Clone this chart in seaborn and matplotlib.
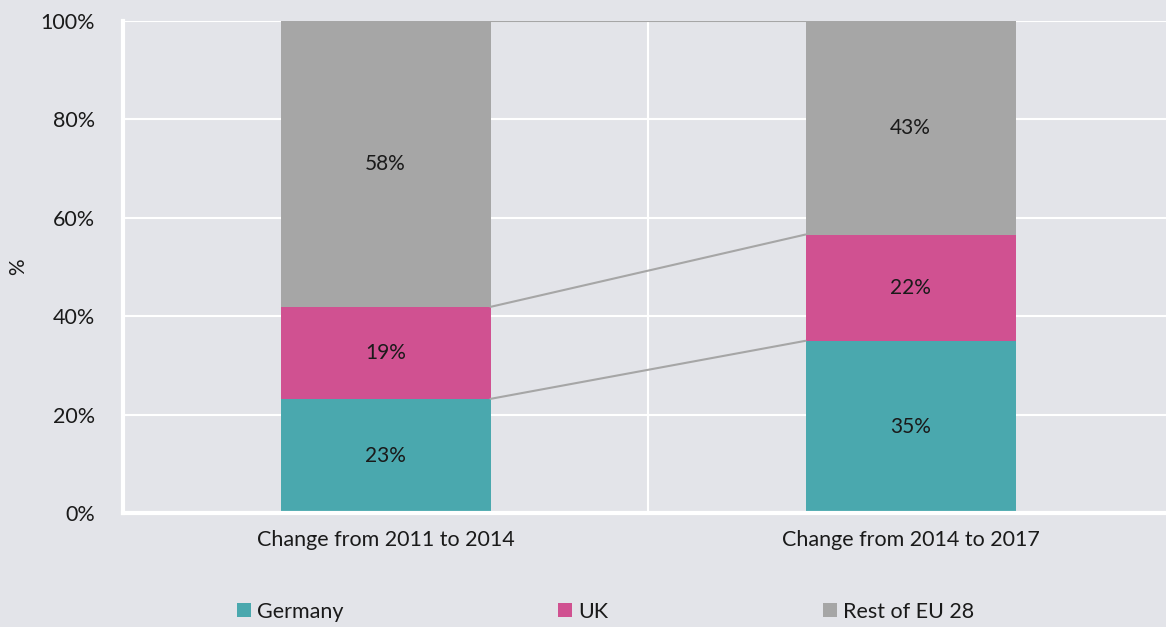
"""
Stacked share-of-change chart: Germany / UK / Rest of EU 28.
"""

import numpy as np
import pandas as pd
import matplotlib
matplotlib.use("Agg")
import matplotlib.pyplot as plt
import seaborn as sns
from matplotlib.lines import Line2D

categories = ["Change from 2011 to 2014", "Change from 2014 to 2017"]
series = ["Germany", "UK", "Rest of EU 28"]
germany = [23.2, 35.0]
uk = [18.7, 21.6]
rest = [58.1, 43.4]
yticks = [0, 20, 40, 60, 80, 100]

colors = {"Germany": "#4aa8ae", "UK": "#d05191", "Rest of EU 28": "#a6a6a6"}
bg = "#e3e4e9"
text_color = "#1a1a1a"

sns.set_theme(style="white")
plt.rcParams["font.family"] = ["Lato", "DejaVu Sans"]

fig = plt.figure(figsize=(11.66, 6.27), dpi=100, facecolor=bg)
ax = fig.add_axes([123 / 1166, 1 - 513 / 627, (1173 - 123) / 1166, (513 - 21) / 627])
ax.set_facecolor(bg)

# cumulative tops, drawn back to front so the stacks overlap
values = np.array([germany, uk, rest])
tops = values.cumsum(axis=0)
for name, top in reversed(list(zip(series, tops))):
    df = pd.DataFrame({"category": categories, "value": top})
    sns.barplot(data=df, x="category", y="value", color=colors[name],
                saturation=1, width=0.4, ax=ax, linewidth=0, zorder=3)

# grid and separators
for y in yticks[1:]:
    ax.axhline(y, color="white", lw=1.5, zorder=1)
ax.axvline(0.5, color="white", lw=1.5, zorder=1)

# connector lines between stacks
half = 0.2
for top in tops:
    ax.plot([0 + half, 1 - half], [top[0], top[1]], color="#a6a6a6", lw=1.5, zorder=4)

# segment labels
bottoms = tops - values
for i in range(len(series)):
    for j in range(len(categories)):
        ax.text(j, bottoms[i, j] + values[i, j] / 2, f"{values[i, j]:.0f}%",
                ha="center", va="center", fontsize=15, color=text_color, zorder=5)

ax.set_xlim(-0.5, 1.5)
ax.set_ylim(0, 100)
ax.set_yticks(yticks)
ax.set_yticklabels([f"{t}%" for t in yticks], fontsize=15.5, color=text_color)
ax.tick_params(axis="y", length=0, pad=20)
ax.tick_params(axis="x", length=0, pad=12, labelsize=15.5, labelcolor=text_color)
ax.set_xlabel("")
ax.set_ylabel("%", fontsize=15, color=text_color, va="center")
ax.yaxis.set_label_coords((18 - 123) / 1050, 0.5)

for side in ["top", "right"]:
    ax.spines[side].set_visible(False)
for side in ["left", "bottom"]:
    ax.spines[side].set_color("white")
    ax.spines[side].set_linewidth(3)
    ax.spines[side].set_zorder(6)

handles = [Line2D([], [], marker="s", linestyle="none", markersize=10,
                  markerfacecolor=colors[s], markeredgewidth=0) for s in series]
fig.legend(handles, series, loc="center", bbox_to_anchor=(606 / 1166, 1 - 612 / 627),
           ncol=3, frameon=False, fontsize=15.5, handlelength=0.6, handletextpad=0.3,
           columnspacing=10, labelcolor=text_color)

fig.savefig("out.png", dpi=100, facecolor=bg)
